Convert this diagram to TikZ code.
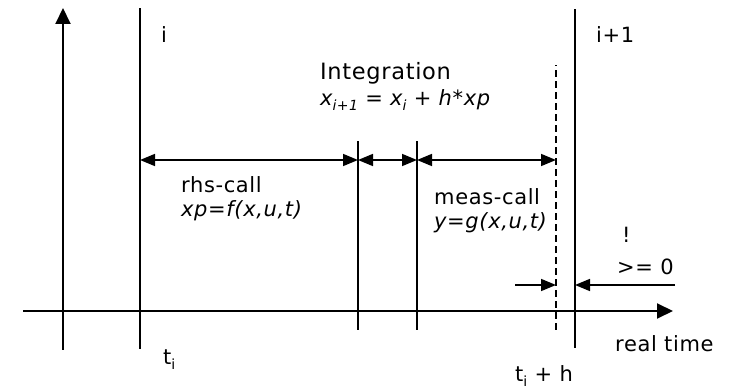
\documentclass[tikz,border=0pt]{standalone}
\usepackage{fontspec}
\setmainfont{DejaVu Sans}[LetterSpace=3]
\usetikzlibrary{arrows.meta}
\newcommand\lowsub[1]{\raisebox{-0.4ex}{\fontsize{14}{15}\selectfont #1}}
\begin{document}
\begin{tikzpicture}[x=1pt,y=-1pt,
  axis/.style={line width=2pt,-{Triangle[length=16pt,width=15pt]}},
  tick/.style={line width=1.6pt},
  dim/.style={line width=1.6pt,{Triangle[length=15pt,width=12pt]}-{Triangle[length=15pt,width=12pt]}},
  onearrow/.style={line width=1.6pt,-{Triangle[length=15pt,width=12pt]}},
  lbl/.style={anchor=base west,inner sep=0pt,font=\fontsize{21}{25}\selectfont},
  biglbl/.style={anchor=base west,inner sep=0pt,font=\fontsize{22.5}{27}\selectfont}]
\useasboundingbox (0,0) rectangle (740,390);
% coordinates
\coordinate (vaB) at (63,350);
\coordinate (vaT) at (63,8);
\coordinate (haL) at (23,311);
\coordinate (haR) at (673,311);
\coordinate (iT) at (140,8);
\coordinate (iB) at (140,349);
\coordinate (aT) at (358,141);
\coordinate (aB) at (358,330);
\coordinate (bT) at (417,141);
\coordinate (bB) at (417,330);
\coordinate (dT) at (556,65);
\coordinate (dB) at (556,330);
\coordinate (jT) at (575,9);
\coordinate (jB) at (575,348);
\coordinate (r1) at (140,160);
\coordinate (r2) at (358,160);
\coordinate (r3) at (417,160);
\coordinate (r4) at (556,160);
\coordinate (s1) at (515,285);
\coordinate (s2) at (556,285);
\coordinate (s3) at (675,285);
\coordinate (s4) at (575,285);
% axes
\draw[axis] (vaB) -- (vaT);
\draw[axis] (haL) -- (haR);
% vertical lines
\draw[tick] (iB) -- (iT);
\draw[tick] (aB) -- (aT);
\draw[tick] (bB) -- (bT);
\draw[tick,dash pattern=on 7pt off 4pt] (dB) -- (dT);
\draw[tick] (jB) -- (jT);
% dimension arrows
\draw[dim] (r1) -- (r2);
\draw[dim] (r2) -- (r3);
\draw[dim] (r3) -- (r4);
\draw[onearrow] (s1) -- (s2);
\draw[onearrow] (s3) -- (s4);
% labels
\node[lbl] (li) at (161,43) {i};
\node[lbl] (lj) at (596,43) {i+1};
\node[biglbl] (lint) at (320,80) {Integration};
\node[lbl] (lform) at (320,106) {\itshape x\lowsub{i+1} = x\lowsub{i} + h*xp};
\node[lbl] (lrhs) at (181,193) {rhs-call};
\node[lbl] (lf) at (181,217) {\itshape xp=f(x,u,t)};
\node[lbl] (lmeas) at (434,205) {meas-call};
\node[lbl] (lg) at (434,229) {\itshape y=g(x,u,t)};
\node[lbl] (lex) at (622,243) {!};
\node[lbl] (lge) at (617,275) {>= 0};
\node[lbl] (lreal) at (615,352) {real time};
\node[lbl] (lti) at (163,365) {t\lowsub{i}};
\node[lbl] (ltih) at (515,382) {t\lowsub{i} + h};
\end{tikzpicture}
\end{document}
